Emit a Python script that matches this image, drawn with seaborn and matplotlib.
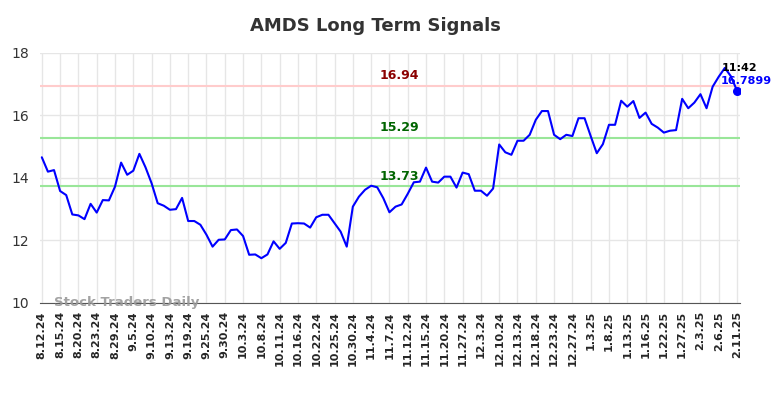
import matplotlib
matplotlib.use("Agg")
import matplotlib.pyplot as plt
import seaborn as sns
import numpy as np
import pandas as pd

# closing prices, one per trading day
prices = [14.66, 14.20, 14.25, 13.58, 13.45, 12.83, 12.80, 12.68, 13.17, 12.89,
          13.29, 13.28, 13.72, 14.49, 14.10, 14.23, 14.77, 14.34, 13.83, 13.19,
          13.11, 12.98, 13.00, 13.36, 12.62, 12.62, 12.50, 12.18, 11.80, 12.02,
          12.03, 12.33, 12.35, 12.14, 11.54, 11.55, 11.43, 11.55, 11.97, 11.73,
          11.92, 12.54, 12.55, 12.54, 12.41, 12.74, 12.82, 12.82, 12.55, 12.28,
          11.80, 13.08, 13.40, 13.62, 13.75, 13.70, 13.35, 12.90, 13.08, 13.15,
          13.49, 13.86, 13.88, 14.33, 13.88, 13.85, 14.04, 14.04, 13.69, 14.17,
          14.12, 13.59, 13.59, 13.43, 13.66, 15.07, 14.82, 14.74, 15.19, 15.19,
          15.38, 15.86, 16.14, 16.14, 15.38, 15.24, 15.38, 15.34, 15.91, 15.91,
          15.34, 14.79, 15.08, 15.70, 15.70, 16.47, 16.28, 16.46, 15.92, 16.09,
          15.73, 15.61, 15.45, 15.51, 15.53, 16.53, 16.23, 16.41, 16.68, 16.23,
          16.92, 17.24, 17.52, 17.25, 16.7899]

tick_labels = ["8.12.24", "8.15.24", "8.20.24", "8.23.24", "8.29.24", "9.5.24",
               "9.10.24", "9.13.24", "9.19.24", "9.25.24", "9.30.24", "10.3.24",
               "10.8.24", "10.11.24", "10.16.24", "10.22.24", "10.25.24", "10.30.24",
               "11.4.24", "11.7.24", "11.12.24", "11.15.24", "11.20.24", "11.27.24",
               "12.3.24", "12.10.24", "12.13.24", "12.18.24", "12.23.24", "12.27.24",
               "1.3.25", "1.8.25", "1.13.25", "1.16.25", "1.22.25", "1.27.25",
               "2.3.25", "2.6.25", "2.11.25"]

resistance = 16.94
supports = [15.29, 13.73]
last_time = "11:42"
last_price = 16.7899

df = pd.DataFrame({"idx": np.arange(len(prices)), "price": prices})

sns.set_style("white")
fig = plt.figure(figsize=(7.84, 3.98), dpi=100)
ax = fig.add_axes([0.051, 0.239, 0.893, 0.628])

ax.axhline(resistance, color="#ffcccc", lw=1.5, zorder=1)
for s in supports:
    ax.axhline(s, color="#99e699", lw=1.5, zorder=1)

sns.lineplot(data=df, x="idx", y="price", color="blue", lw=1.5, ax=ax, zorder=3)
ax.scatter([df.idx.iloc[-1]], [last_price], color="blue", s=30, zorder=4)

# level labels
mid = 58.6
ax.text(mid, resistance + 0.12, f"{resistance:.2f}", color="#8b0000", fontsize=9,
        fontweight="bold", ha="center", va="bottom")
for s in supports:
    ax.text(mid, s + 0.12, f"{s:.2f}", color="#006400", fontsize=9,
            fontweight="bold", ha="center", va="bottom")

# last value annotation (drawn over the line end like the original)
ax.text(111.5, 17.37, last_time, color="black", fontsize=8, fontweight="bold",
        ha="left", va="bottom", zorder=5,
        bbox=dict(facecolor="none", edgecolor="none", pad=0))
ax.text(111.3, 16.95, f"{last_price:.4f}", color="blue", fontsize=8, fontweight="bold",
        ha="left", va="bottom", zorder=5)

ax.text(2.0, 10.0, "Stock Traders Daily", color="#999999", fontsize=9.5,
        fontweight="bold", ha="left", va="center", alpha=0.9, zorder=5)

ax.set_xlim(-0.3, 114.5)
ax.set_ylim(10, 18)
ax.set_yticks([10, 12, 14, 16, 18])
ax.set_xticks(np.arange(0, len(prices), 3))
ax.set_xticklabels(tick_labels, rotation=90, fontsize=8, fontweight="bold")
ax.tick_params(axis="y", labelsize=10, labelcolor="#333333", length=0, pad=8)
ax.tick_params(axis="x", length=0, pad=6)
ax.set_xlabel("")
ax.set_ylabel("")
ax.grid(True, color="#e6e6e6", lw=1)
for side in ["top", "right", "left"]:
    ax.spines[side].set_visible(False)
ax.spines["bottom"].set_color("#555555")

fig.text(375 / 784, 1 - 26 / 398, "AMDS Long Term Signals", ha="center", va="center",
         fontsize=13, fontweight="bold", color="#333333")

fig.savefig("out.png", dpi=100)
